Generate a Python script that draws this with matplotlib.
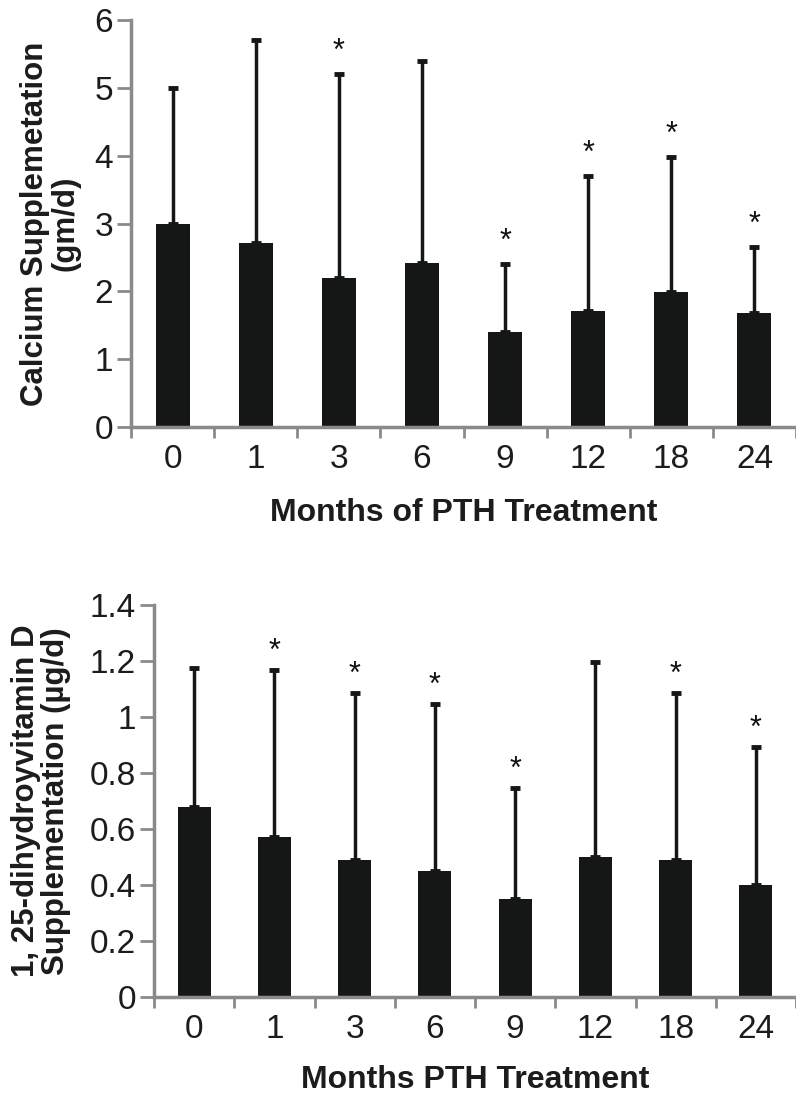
import numpy as np
import matplotlib
matplotlib.use("Agg")
import matplotlib.pyplot as plt

plt.rcParams['font.family'] = ['Liberation Sans', 'DejaVu Sans']

# Data
months = ["0", "1", "3", "6", "9", "12", "18", "24"]

ca_mean = [3.0, 2.72, 2.2, 2.42, 1.40, 1.71, 1.99, 1.68]
ca_top = [5.0, 5.7, 5.2, 5.4, 2.40, 3.70, 3.98, 2.65]
ca_sig = [False, False, True, False, True, True, True, True]

vd_mean = [0.68, 0.57, 0.49, 0.45, 0.35, 0.50, 0.49, 0.40]
vd_top = [1.175, 1.168, 1.085, 1.046, 0.746, 1.196, 1.085, 0.893]
vd_sig = [False, True, True, True, True, False, True, True]

fig = plt.figure(figsize=(7.96, 10.95), dpi=100)

axis_gray = "#8a8a8a"
ink = "#1c1c1c"


def panel(rect, mean, top, sig, ymax, ystep, yfmt, ylabel, xlabel, star_off, xright, lpad):
    ax = fig.add_axes(rect)
    x = np.arange(len(mean))
    up = np.array(top) - np.array(mean)
    ax.bar(x, mean, width=0.41, color="#151716", zorder=2)
    ax.errorbar(x, mean, yerr=[np.zeros(len(mean)), up], fmt="none",
                ecolor="#151716", elinewidth=2.5, capsize=3.5, capthick=3.5, zorder=1)
    for xi, t, s in zip(x, top, sig):
        if s:
            ax.text(xi, t + star_off, "*", ha="center", va="center",
                    fontsize=22, color="#111111")
    ax.set_xlim(-0.5, xright)
    ax.set_ylim(0, ymax)
    yt = np.arange(0, ymax + 1e-9, ystep)
    ax.set_yticks(yt)
    ax.set_yticklabels([yfmt(v) for v in yt], fontsize=24, color=ink)
    ax.set_xticks(x)
    ax.set_xticklabels(months, fontsize=24, color=ink)
    ax.tick_params(axis="x", which="major", length=0, pad=12)
    ax.set_xticks(np.arange(-0.5, len(mean), 1.0), minor=True)
    ax.tick_params(axis="x", which="minor", length=8, width=2, color=axis_gray)
    ax.tick_params(axis="y", length=10, width=2, color=axis_gray, pad=3)
    for s in ["top", "right"]:
        ax.spines[s].set_visible(False)
    for s in ["left", "bottom"]:
        ax.spines[s].set_color(axis_gray)
        ax.spines[s].set_linewidth(2.5)
    ax.set_ylabel(ylabel, fontsize=22.5, fontweight="bold", color=ink,
                  linespacing=1.0)
    ax.set_xlabel(xlabel, fontsize=23, fontweight="bold", color=ink,
                  labelpad=lpad)
    return ax


def fmt_int(v):
    return "%d" % round(v)


def fmt_dec(v):
    s = "%.1f" % v
    if s.endswith(".0"):
        s = s[:-2]
    return s


ax1 = panel([131 / 796, 0.610, 665 / 796, 0.3717], ca_mean, ca_top, ca_sig,
            6, 1, fmt_int, "Calcium Supplemetation\n(gm/d)",
            "Months of PTH Treatment", 0.33, -0.5 + 665 / 84, 17)
ax1.yaxis.set_label_coords(-0.076, 0.5)

ax2 = panel([154 / 796, 0.0895, 642 / 796, 0.358], vd_mean, vd_top, vd_sig,
            1.4, 0.2, fmt_dec, "1, 25-dihydroyvitamin D\nSupplementation (\u00b5g/d)",
            "Months PTH Treatment", 0.065, -0.5 + 642 / 81, 15)
ax2.yaxis.set_label_coords(-0.13, 0.5)

fig.savefig("out.png", dpi=100)
